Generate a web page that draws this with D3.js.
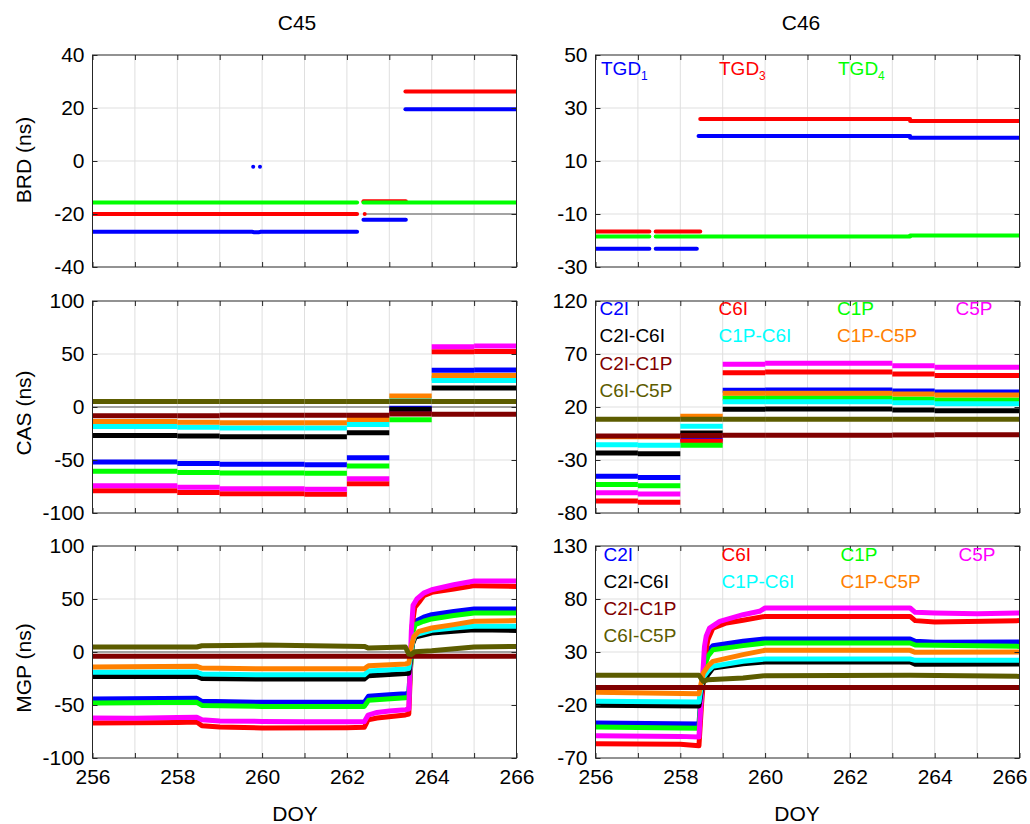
<!DOCTYPE html>
<html>
<head>
<meta charset="utf-8">
<script src="https://cdn.jsdelivr.net/npm/d3@7"></script>
<style>
  body { margin: 0; background: #fff; }
  svg { display: block; font-family: "Liberation Sans", Arial, Helvetica, sans-serif; }
</style>
</head>
<body>
<svg id="chart" width="1030" height="824"></svg>
<script>
// ---------------- data ----------------
const satellites = ["C45", "C46"];
const doyTicks = [256, 257, 258, 259, 260, 261, 262, 263, 264, 265, 266];
const doyLabels = [256, 258, 260, 262, 264, 266];

const brdTicksC45 = [-40, -20, 0, 20, 40];
const brdTicksC46 = [-30, -10, 10, 30, 50];
const casTicksC45 = [-100, -50, 0, 50, 100];
const casTicksC46 = [-80, -30, 20, 70, 120];
const mgpTicksC45 = [-100, -50, 0, 50, 100];
const mgpTicksC46 = [-70, -20, 30, 80, 130];

const tgdNames = ["TGD", "TGD", "TGD"];
const tgdSubs = ["1", "3", "4"];
const tgdColors = ["#0000ff", "#ff0000", "#00ff00"];

const signals = ["C2I", "C6I", "C1P", "C5P", "C2I-C6I", "C1P-C6I", "C1P-C5P", "C2I-C1P", "C6I-C5P"];
const signalColors = ["#0000ff", "#ff0000", "#00ff00", "#ff00ff", "#000000", "#00ffff", "#ff8000", "#800000", "#5c5c00"];

// Broadcast TGDs: each series is a list of runs of [doy, ns]
const brdC45TGD1 = [
  [[256, -26.7], [259.77, -26.7]], [[259.8, -26.9], [259.93, -26.9]], [[259.96, -26.7], [262.24, -26.7]],
  [[262.39, -22.2], [263.39, -22.2]], [[263.38, 19.5], [266, 19.5]],
  [[259.79, -2.2], [259.79, -2.2]], [[259.95, -2.2], [259.95, -2.2]]
];
const brdC45TGD3 = [
  [[256, -20], [262.24, -20]], [[262.42, -20], [262.42, -20]],
  [[262.39, -15.2], [263.39, -15.2]], [[263.38, 26.2], [266, 26.2]]
];
const brdC45TGD4 = [
  [[256, -15.7], [262.24, -15.7]], [[262.39, -15.7], [266, -15.7]]
];
const brdC46TGD1 = [
  [[256, -23.1], [257.27, -23.1]], [[257.42, -23.1], [258.39, -23.1]],
  [[258.43, 19.4], [263.42, 19.4]], [[263.42, 18.8], [266, 18.8]]
];
const brdC46TGD3 = [
  [[256, -16.6], [257.27, -16.6]], [[257.42, -16.6], [258.47, -16.6]],
  [[258.47, 25.85], [263.42, 25.85]], [[263.42, 25.1], [266, 25.1]]
];
const brdC46TGD4 = [
  [[256, -18.5], [257.27, -18.5]], [[257.42, -18.5], [263.42, -18.5]], [[263.42, -18.1], [266, -18.1]]
];
const brdC45Ref = [[262.45, -20], [266, -20]];

// Code/observable-specific biases: daily step values between break days, rows in `signals` order
const casC45Breaks = [256, 258, 259, 261, 262, 263, 264, 265, 266];
const casC45 = [
  [-51.9, -53.2, -54.1, -54.4, -47.8, -1.2, 34.6, 34.9],
  [-79.0, -80.6, -81.8, -82.4, -72.4, -5.0, 52.2, 52.4],
  [-60.7, -61.7, -62.3, -62.6, -55.7, -12.0, 27.4, 27.4],
  [-74.2, -75.8, -77.1, -77.6, -67.6, -3.0, 56.9, 57.5],
  [-26.8, -27.4, -28.0, -28.0, -24.2, -2.2, 17.9, 18.0],
  [-18.3, -19.0, -19.8, -19.8, -16.4, 7.5, 25.1, 25.1],
  [-13.6, -14.3, -14.8, -14.8, -11.7, 10.4, 29.8, 29.8],
  [-8.2, -8.2, -7.9, -7.9, -7.9, -6.6, -6.9, -6.9],
  [5.3, 5.3, 5.3, 5.3, 5.3, 5.3, 5.3, 5.3]
];
const casC46Breaks = [256, 257, 258, 259, 260, 263, 264, 266];
const casC46 = [
  [-45.4, -46.4, -10.2, 35.7, 36.0, 35.1, 34.2],
  [-68.7, -69.9, -12.4, 52.4, 53.0, 51.1, 49.6],
  [-53.0, -54.2, -16.2, 28.5, 28.8, 27.5, 26.6],
  [-60.8, -62.1, -7.0, 60.3, 61.2, 59.0, 57.4],
  [-23.4, -24.0, -4.5, 17.8, 18.1, 17.2, 16.5],
  [-15.5, -16.2, 1.8, 25.0, 25.0, 24.1, 23.1],
  [-8.0, -8.0, 11.2, 32.9, 32.9, 32.3, 31.3],
  [-7.4, -7.4, -7.0, -6.7, -6.7, -6.4, -6.1],
  [8.4, 8.4, 8.4, 8.4, 8.4, 8.4, 8.4]
];

// MGEX products: [doy, ns] samples, rows in `signals` order
const mgpC45 = [
  [[256, -44.3], [258.46, -43.7], [258.58, -46.5], [260, -47.5], [262.41, -47.5], [262.51, -41.8], [263, -40.3], [263.38, -39.3], [263.46, -39], [263.55, 20], [263.61, 28.9], [263.81, 32.9], [264, 35.2], [264.52, 38.3], [265, 40.5], [266, 40.5]],
  [[256, -67], [258, -66.4], [258.46, -66], [258.58, -69.5], [259, -70.8], [260, -71.7], [262, -71.4], [262.41, -71.1], [262.5, -64], [262.71, -62.3], [263.38, -59.4], [263.46, -58.5], [263.54, 25], [263.6, 42], [263.7, 47], [263.81, 53.1], [264, 56.3], [264.52, 59.4], [264.91, 61.9], [265, 62.6], [266, 61.9]],
  [[256, -48.1], [258.46, -47.5], [258.58, -50.4], [260, -51.3], [262.41, -51.3], [262.51, -45.6], [263.38, -43.1], [263.46, -42.8], [263.55, 18], [263.61, 25.9], [263.81, 29], [264, 31.2], [264.52, 34.4], [265, 36.8], [266, 36.8]],
  [[256, -62.3], [257, -62.4], [258, -61.8], [258.46, -61.5], [258.58, -64], [259, -65], [260, -65.5], [261, -65.8], [262.41, -65.8], [262.5, -59.5], [262.71, -57], [263, -55.7], [263.38, -54.4], [263.46, -53.8], [263.52, 20], [263.56, 44], [263.65, 50], [263.81, 55.5], [264, 58.7], [264.52, 63.4], [264.91, 66.3], [265, 66.9], [266, 66.9]],
  [[256, -23], [258.46, -23], [258.58, -24.9], [260, -25.5], [262.41, -25.5], [262.51, -22.3], [263.38, -20.4], [263.46, -20], [263.55, 8], [263.61, 14.1], [264, 17.9], [264.52, 19.5], [265, 21], [266, 20.4]],
  [[256, -19.2], [258.46, -18.9], [258.58, -20.8], [260, -21.5], [262.41, -21.5], [262.51, -18], [263.38, -16.1], [263.46, -15.5], [263.55, 10], [263.61, 16.3], [264, 20.4], [264.52, 22.6], [265, 24.2], [266, 24.2]],
  [[256, -14.2], [258.46, -13.5], [258.58, -15.1], [260, -15.8], [262.41, -15.8], [262.51, -12.9], [263.38, -11.3], [263.46, -10.5], [263.52, 5], [263.58, 14.7], [263.7, 19.5], [264, 22.6], [264.52, 25.8], [265, 29], [266, 29.6]],
  [[256, -4.1], [266, -4.1]],
  [[256, 4.7], [258.46, 4.7], [258.58, 5.9], [260, 6.5], [262.41, 5.3], [262.51, 3.7], [263.38, 4.7], [263.46, -2], [263.52, -2.4], [263.6, 0.2], [264, 1.1], [265, 4.7], [266, 5.3]]
];
const mgpC46 = [
  [[256, -37], [258.44, -37.9], [258.5, -5], [258.6, 25], [258.65, 30.6], [258.77, 36], [259.48, 40.1], [260, 42.3], [263.42, 42.3], [263.54, 40.1], [264, 39.1], [266, 39.4]],
  [[256, -56.5], [258, -57.1], [258.44, -58.4], [258.5, -20], [258.6, 30], [258.65, 41.6], [258.77, 52.6], [259.09, 57.4], [259.48, 59.9], [260, 63.6], [263.42, 63.6], [263.54, 59.6], [264, 58.3], [266, 59.6]],
  [[256, -40.8], [258.44, -42], [258.5, -8], [258.6, 20], [258.65, 25.9], [258.77, 32.2], [259.48, 36], [260, 38.5], [263.42, 38.5], [263.54, 36.6], [266, 35.3]],
  [[256, -48.9], [258, -49.6], [258.44, -50.2], [258.5, -10], [258.57, 35], [258.61, 44.8], [258.69, 52.6], [258.93, 58.9], [259.48, 65.2], [259.87, 68.4], [260, 71.5], [263.42, 71.5], [263.54, 67.4], [264, 66.8], [265, 66.2], [266, 66.8]],
  [[256, -20.3], [258.44, -20.9], [258.52, 0], [258.65, 8.6], [258.77, 14.9], [259.48, 19], [260, 20.6], [263.42, 20.6], [263.54, 18.4], [266, 18.7]],
  [[256, -16.5], [258.44, -17.2], [258.52, 5], [258.65, 11.8], [258.77, 16.5], [259.48, 21.2], [260, 23.4], [263.42, 23.4], [263.54, 22.1], [266, 22.1]],
  [[256, -8], [258.44, -9.3], [258.54, 10], [258.65, 16.5], [258.77, 21.2], [259.48, 27.5], [260, 31.6], [263.42, 31.6], [263.54, 29.7], [266, 30]],
  [[256, -3.6], [266, -3.6]],
  [[256, 8], [258.44, 8], [258.54, 2.3], [258.65, 3.9], [259.48, 5.5], [260, 7.7], [263.42, 8], [266, 7]]
];
const zeroRef = [[256, 0], [266, 0]];

// ---------------- layout ----------------
const svg = d3.select("#chart");
const W = 424, H = 212;
const colX = [92.5, 595.5];
const rowY = [55, 301, 546];
const FONT = 21;
const axisColor = "#262626";
const gridColor = "#dfdfdf";

function makePanel(col, row, yDomain, yTicks) {
  const x0 = colX[col], y0 = rowY[row];
  const x = d3.scaleLinear().domain([256, 266]).range([x0, x0 + W]);
  const y = d3.scaleLinear().domain(yDomain).range([y0 + H, y0]);
  const g = svg.append("g");

  // grid
  g.append("g").selectAll("line").data(doyTicks.slice(1, -1)).join("line")
    .attr("x1", d => x(d)).attr("x2", d => x(d))
    .attr("y1", y0).attr("y2", y0 + H)
    .attr("stroke", gridColor).attr("stroke-width", 1);
  g.append("g").selectAll("line").data(yTicks.slice(1, -1)).join("line")
    .attr("x1", x0).attr("x2", x0 + W)
    .attr("y1", d => y(d)).attr("y2", d => y(d))
    .attr("stroke", gridColor).attr("stroke-width", 1);

  const id = `clip-${col}-${row}`;
  svg.append("clipPath").attr("id", id).append("rect")
    .attr("x", x0).attr("y", y0).attr("width", W).attr("height", H);
  const plot = g.append("g").attr("clip-path", `url(#${id})`);
  return { x, y, g, plot, x0, y0, yTicks, row, col };
}

function finishAxes(p) {
  const { x, y, g, x0, y0, yTicks, row, col } = p;
  const fmt = d => String(d);
  const left = g.append("g").attr("transform", `translate(${x0},0)`)
    .call(d3.axisLeft(y).tickValues(yTicks).tickSize(-5).tickPadding(8).tickFormat(fmt));
  const right = g.append("g").attr("transform", `translate(${x0 + W},0)`)
    .call(d3.axisRight(y).tickValues(yTicks).tickSize(-5).tickFormat(""));
  const top = g.append("g").attr("transform", `translate(0,${y0})`)
    .call(d3.axisTop(x).tickValues(doyTicks).tickSize(-5).tickFormat(""));
  const bottom = g.append("g").attr("transform", `translate(0,${y0 + H})`)
    .call(d3.axisBottom(x).tickValues(doyTicks).tickSize(-5).tickPadding(11)
      .tickFormat(d => (row === 2 && doyLabels.includes(d)) ? String(d) : ""));
  [left, right, top, bottom].forEach(a => {
    a.attr("font-size", FONT).attr("font-family", null).attr("color", axisColor);
    a.select(".domain").remove();
    a.selectAll("text").attr("fill", "#000");
  });
  // keep the last day label of the right-hand column inside the page
  if (col === 1) {
    bottom.selectAll(".tick").filter(d => d === 266).select("text").attr("dx", -10);
  }
  g.append("rect").attr("x", x0).attr("y", y0).attr("width", W).attr("height", H)
    .attr("fill", "none").attr("stroke", axisColor).attr("stroke-width", 1);
}

function lineGen(p) {
  return d3.line().x(d => p.x(d[0])).y(d => p.y(d[1]));
}

function drawRuns(p, runs, color, width) {
  const lg = lineGen(p);
  p.plot.append("g").selectAll("path").data(runs).join("path")
    .attr("d", lg).attr("fill", "none").attr("stroke", color)
    .attr("stroke-width", width).attr("stroke-linecap", "round");
}

function drawRef(p, pts) {
  p.plot.append("path").attr("d", lineGen(p)(pts))
    .attr("fill", "none").attr("stroke", "#8a8a8a").attr("stroke-width", 1.5);
}

function drawSteps(p, breaks, rows) {
  const lg = lineGen(p);
  rows.forEach((vals, i) => {
    const segs = vals.map((v, j) => [[breaks[j], v], [breaks[j + 1], v]]);
    p.plot.append("g").selectAll("path").data(segs).join("path")
      .attr("d", lg).attr("fill", "none").attr("stroke", signalColors[i])
      .attr("stroke-width", 5).attr("stroke-linecap", "butt");
  });
}

function drawCurves(p, rows) {
  const lg = lineGen(p);
  rows.forEach((pts, i) => {
    p.plot.append("path").attr("d", lg(pts)).attr("fill", "none")
      .attr("stroke", signalColors[i]).attr("stroke-width", 5)
      .attr("stroke-linejoin", "round").attr("stroke-linecap", "butt");
  });
}

function signalLegend(xs, ys) {
  const slots = [[0, 0], [1, 0], [2, 0], [3, 0], [0, 1], [1, 1], [2, 1], [0, 2], [0, 3]];
  svg.append("g").attr("font-size", 19).selectAll("text").data(signals).join("text")
    .attr("x", (d, i) => xs[slots[i][0]]).attr("y", (d, i) => ys[slots[i][1]])
    .attr("fill", (d, i) => signalColors[i]).text(d => d);
}

// ---------------- BRD row ----------------
const b45 = makePanel(0, 0, [-40, 40], brdTicksC45);
drawRef(b45, brdC45Ref);
drawRuns(b45, brdC45TGD1, tgdColors[0], 4);
drawRuns(b45, brdC45TGD3, tgdColors[1], 4);
drawRuns(b45, brdC45TGD4, tgdColors[2], 4);
finishAxes(b45);

const b46 = makePanel(1, 0, [-30, 50], brdTicksC46);
drawRuns(b46, brdC46TGD1, tgdColors[0], 4);
drawRuns(b46, brdC46TGD3, tgdColors[1], 4);
drawRuns(b46, brdC46TGD4, tgdColors[2], 4);
finishAxes(b46);

const tgdX = [601, 719, 838];
tgdNames.forEach((n, i) => {
  const t = svg.append("text").attr("x", tgdX[i]).attr("y", 75)
    .attr("font-size", 19).attr("fill", tgdColors[i]).text(n);
  t.append("tspan").attr("font-size", 12).attr("dy", 5).text(tgdSubs[i]);
});

// ---------------- CAS row ----------------
const c45 = makePanel(0, 1, [-100, 100], casTicksC45);
drawRef(c45, zeroRef);
drawSteps(c45, casC45Breaks, casC45);
finishAxes(c45);

const c46 = makePanel(1, 1, [-80, 120], casTicksC46);
drawSteps(c46, casC46Breaks, casC46);
finishAxes(c46);
signalLegend([599.5, 718.5, 837, 955.5], [315, 342.3, 370, 396.7]);

// ---------------- MGP row ----------------
const m45 = makePanel(0, 2, [-100, 100], mgpTicksC45);
drawRef(m45, zeroRef);
drawCurves(m45, mgpC45);
finishAxes(m45);

const m46 = makePanel(1, 2, [-70, 130], mgpTicksC46);
drawCurves(m46, mgpC46);
finishAxes(m46);
signalLegend([603.5, 721.5, 840.5, 958.5], [560.7, 587.5, 615, 641.7]);

// ---------------- titles and axis labels ----------------
svg.append("g").attr("font-size", FONT).attr("text-anchor", "middle")
  .selectAll("text").data(satellites).join("text")
  .attr("x", (d, i) => [297, 801][i]).attr("y", 30).text(d => d);

svg.append("g").attr("font-size", FONT).attr("text-anchor", "middle")
  .selectAll("text").data(["DOY", "DOY"]).join("text")
  .attr("x", (d, i) => [295, 797][i]).attr("y", 821).text(d => d);

const yLabels = ["BRD (ns)", "CAS (ns)", "MGP (ns)"];
const yLabelCenters = [160, 413, 668];
svg.append("g").attr("font-size", FONT).attr("text-anchor", "middle")
  .selectAll("text").data(yLabels).join("text")
  .attr("transform", (d, i) => `translate(31,${yLabelCenters[i]}) rotate(-90)`)
  .text(d => d);
</script>
</body>
</html>
